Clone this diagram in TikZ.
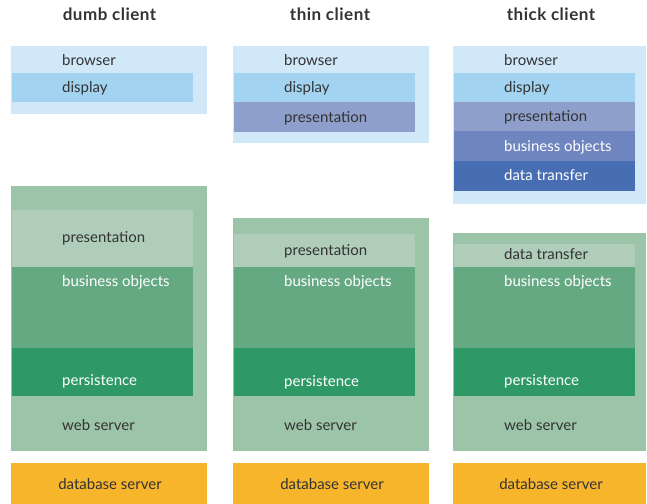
\documentclass[tikz,border=0pt]{standalone}
\usepackage{fontspec}
\setmainfont{Lato}
\usetikzlibrary{positioning}
\definecolor{darktext}{RGB}{51,51,51}
\definecolor{browserblue}{RGB}{208,232,247}
\definecolor{displayblue}{RGB}{162,212,242}
\definecolor{presblue}{RGB}{143,159,204}
\definecolor{busblue}{RGB}{110,133,192}
\definecolor{transblue}{RGB}{71,109,179}
\definecolor{webgreen}{RGB}{155,196,168}
\definecolor{presgreen}{RGB}{175,205,185}
\definecolor{busgreen}{RGB}{101,169,131}
\definecolor{persgreen}{RGB}{46,153,102}
\definecolor{dbyellow}{RGB}{247,181,43}

\begin{document}
\begin{tikzpicture}[
    x=1pt, y=-1pt,
    font=\fontsize{15}{17}\selectfont,
    box/.style={
		rectangle,
		anchor=north west,
		inner sep=0pt,
		outer sep=0pt,
		draw=none
	},
	tag/.style={
		anchor=base west,
		inner sep=0pt,
		text=darktext
	},
	whitetag/.style={
		tag,
		text=white
	},
	dbtag/.style={
		anchor=base,
		inner sep=0pt,
		text=darktext
	},
	head/.style={
		anchor=base,
		inner sep=0pt,
		text=darktext,
		font=\bfseries\fontsize{17}{19}\selectfont\addfontfeatures{LetterSpace=3}
	}
  ]
  \useasboundingbox (0,0) rectangle (647,503);

  % column titles
  \node [head] (dumbhead) at (109.5,21) {dumb client};
  \node [head] (thinhead) at (330,21) {thin client};
  \node [head] (thickhead) at (551,21) {thick client};

  % dumb client
  \node [box, fill=browserblue, minimum width=196pt, minimum height=68pt] (dumbbrowser) at (11,46) {};
  \node [box, fill=displayblue, minimum width=181pt, minimum height=29pt] (dumbdisplay) at (12,73) {};
  \node [tag] (dumbbrowsertxt) at (62,65) {browser};
  \node [tag] (dumbdisplaytxt) at (62,92) {display};

  \node [box, fill=webgreen, minimum width=196pt, minimum height=265pt] (dumbweb) at (11,186) {};
  \node [box, fill=presgreen, minimum width=181pt, minimum height=57pt] (dumbpres) at (12,210) {};
  \node [box, fill=busgreen, minimum width=181pt, minimum height=81pt] (dumbbus) at (12,267) {};
  \node [box, fill=persgreen, minimum width=181pt, minimum height=48pt] (dumbpers) at (12,348) {};
  \node [tag] (dumbprestxt) at (62,242) {presentation};
  \node [whitetag] (dumbbustxt) at (62,286) {business objects};
  \node [whitetag] (dumbperstxt) at (62,385) {persistence};
  \node [tag] (dumbwebtxt) at (62,430) {web server};

  \node [box, fill=dbyellow, minimum width=196pt, minimum height=41pt] (dumbdb) at (11,463) {};
  \node [dbtag] (dumbdbtxt) at (110,489) {database server};

  % thin client
  \node [box, fill=browserblue, minimum width=196pt, minimum height=97pt] (thinbrowser) at (233,46) {};
  \node [box, fill=displayblue, minimum width=181pt, minimum height=29pt] (thindisplay) at (234,73) {};
  \node [box, fill=presblue, minimum width=181pt, minimum height=30pt] (thinpresb) at (234,102) {};
  \node [tag] (thinbrowsertxt) at (284,65) {browser};
  \node [tag] (thindisplaytxt) at (284,92) {display};
  \node [tag] (thinpresbtxt) at (284,122) {presentation};

  \node [box, fill=webgreen, minimum width=196pt, minimum height=233pt] (thinweb) at (233,218) {};
  \node [box, fill=presgreen, minimum width=181pt, minimum height=33pt] (thinpres) at (234,234) {};
  \node [box, fill=busgreen, minimum width=181pt, minimum height=81pt] (thinbus) at (234,267) {};
  \node [box, fill=persgreen, minimum width=181pt, minimum height=48pt] (thinpers) at (234,348) {};
  \node [tag] (thinprestxt) at (284,255) {presentation};
  \node [whitetag] (thinbustxt) at (284,286) {business objects};
  \node [whitetag] (thinperstxt) at (284,386) {persistence};
  \node [tag] (thinwebtxt) at (284,430) {web server};

  \node [box, fill=dbyellow, minimum width=196pt, minimum height=41pt] (thindb) at (233,463) {};
  \node [dbtag] (thindbtxt) at (332,489) {database server};

  % thick client
  \node [box, fill=browserblue, minimum width=193pt, minimum height=158pt] (thickbrowser) at (453,46) {};
  \node [box, fill=displayblue, minimum width=181pt, minimum height=29pt] (thickdisplay) at (454,73) {};
  \node [box, fill=presblue, minimum width=181pt, minimum height=29pt] (thickpresb) at (454,102) {};
  \node [box, fill=busblue, minimum width=181pt, minimum height=30pt] (thickbusb) at (454,131) {};
  \node [box, fill=transblue, minimum width=181pt, minimum height=30pt] (thicktransb) at (454,161) {};
  \node [tag] (thickbrowsertxt) at (504,65) {browser};
  \node [tag] (thickdisplaytxt) at (504,92) {display};
  \node [tag] (thickpresbtxt) at (504,121) {presentation};
  \node [whitetag] (thickbusbtxt) at (504,151) {business objects};
  \node [whitetag] (thicktransbtxt) at (504,180) {data transfer};

  \node [box, fill=webgreen, minimum width=193pt, minimum height=218pt] (thickweb) at (453,233) {};
  \node [box, fill=presgreen, minimum width=181pt, minimum height=23pt] (thicktrans) at (454,244) {};
  \node [box, fill=busgreen, minimum width=181pt, minimum height=81pt] (thickbus) at (454,267) {};
  \node [box, fill=persgreen, minimum width=181pt, minimum height=48pt] (thickpers) at (454,348) {};
  \node [tag] (thicktranstxt) at (504,259) {data transfer};
  \node [whitetag] (thickbustxt) at (504,286) {business objects};
  \node [whitetag] (thickperstxt) at (504,385) {persistence};
  \node [tag] (thickwebtxt) at (504,430) {web server};

  \node [box, fill=dbyellow, minimum width=193pt, minimum height=41pt] (thickdb) at (453,463) {};
  \node [dbtag] (thickdbtxt) at (551,489) {database server};
\end{tikzpicture}
\end{document}
